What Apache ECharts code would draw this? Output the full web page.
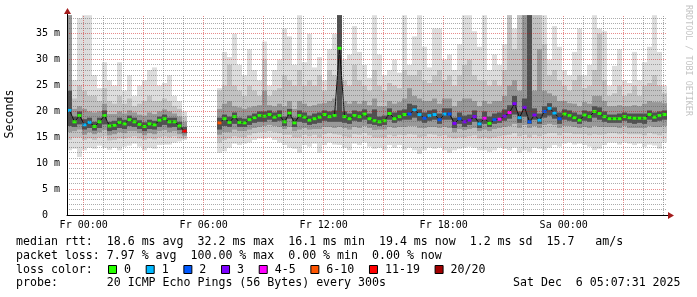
<!DOCTYPE html>
<html><head><meta charset="utf-8">
<script src="https://cdn.jsdelivr.net/npm/echarts@6/dist/echarts.min.js"></script>
<style>html,body{margin:0;padding:0;background:#fff}#c{width:697px;height:297px}</style>
</head><body><div id="c"></div>
<script>
// time axis in hours relative to Fr 00:00; one sample every 15 minutes
const startHour = -0.835, stepHours = 0.25, endHour = 29.165;

const rttMedian = [
20.2,18.0,19.2,17.4,17.9,17.1,18.0,19.2,17.2,17.3,
17.9,17.6,18.4,18.0,17.5,17.1,17.6,17.4,18.3,18.6,
18.0,18.0,17.2,16.2,null,null,null,null,null,null,
17.8,18.6,17.9,19.0,17.9,17.8,18.4,18.8,19.2,19.1,
19.4,18.9,19.2,18.0,19.7,17.8,19.2,18.9,18.3,18.6,
18.9,19.4,19.0,19.2,32.2,19.0,18.6,19.2,19.0,19.5,
18.6,18.2,18.0,18.2,19.6,18.6,19.0,19.4,19.5,20.3,
19.4,18.7,19.2,19.4,18.4,19.5,19.5,17.7,18.6,18.0,
18.3,19.0,17.6,18.7,17.7,18.4,18.5,19.1,19.8,21.5,
18.8,20.8,18.0,19.3,18.3,20.0,20.6,19.7,18.6,19.5,
19.2,18.8,18.3,19.3,19.0,20.0,19.6,19.0,18.6,18.6,
18.6,19.0,18.8,18.7,18.7,18.7,19.4,18.9,19.2,19.4];

const lossLevel = [
1,0,0,1,1,0,0,0,0,0,
0,0,0,0,0,0,0,0,0,0,
0,0,0,6,null,null,null,null,null,null,
5,0,0,0,0,0,0,0,0,0,
0,0,0,0,0,0,0,0,0,0,
0,0,0,0,0,0,0,0,0,0,
0,0,0,0,0,0,0,0,2,1,
1,2,1,1,2,1,2,3,2,3,
3,3,1,4,0,2,4,3,4,3,
1,3,2,3,1,2,1,1,2,0,
0,0,0,0,0,0,0,0,0,0,
0,0,0,0,0,0,0,0,0,0];

const rttMin = [
12.5,12.8,11.2,12.5,13.0,12.8,13.4,13.0,12.6,13.0,
12.5,13.2,13.4,13.8,13.2,12.5,13.0,12.8,13.5,13.6,
13.6,14.0,14.2,14.5,null,null,null,null,null,null,
12.0,12.3,13.0,13.8,13.5,13.8,14.0,14.5,14.8,14.8,
15.0,14.5,14.0,13.5,13.0,12.8,12.0,13.5,13.2,13.8,
12.0,13.5,14.0,13.6,13.5,13.0,12.5,13.8,13.5,14.0,
13.2,12.8,13.0,12.5,13.5,13.0,13.5,12.6,13.0,12.5,
11.8,12.5,13.0,12.8,13.0,12.5,12.0,12.5,12.8,13.0,
13.2,13.0,12.5,12.5,12.2,12.5,13.0,12.8,12.5,13.0,
12.0,12.5,12.2,13.0,12.8,12.5,13.0,13.5,13.2,13.8,
14.0,13.6,13.8,13.5,13.2,12.5,12.8,13.5,14.0,14.0,
13.6,14.0,13.8,13.5,13.8,13.2,13.6,13.4,12.8,14.0];

const rttLo2 = [
14.5,15.0,15.0,14.5,14.8,14.5,15.0,15.2,14.4,14.5,
14.8,14.8,15.0,15.2,14.8,14.5,14.8,14.6,15.0,15.2,
15.0,15.2,14.8,14.8,null,null,null,null,null,null,
14.0,14.5,14.8,15.2,15.0,15.0,15.4,15.8,16.0,16.0,
16.2,16.0,15.8,15.5,15.5,15.0,15.0,15.5,15.2,15.5,
15.0,15.6,15.8,15.6,15.5,15.2,15.0,15.6,15.5,15.8,
15.4,15.0,15.0,15.0,15.5,15.2,15.5,15.4,15.6,15.5,
15.0,15.2,15.6,15.5,15.2,15.4,15.0,14.8,15.0,15.0,
15.2,15.4,14.8,15.0,14.8,15.0,15.2,15.4,15.5,15.8,
15.2,15.5,15.0,15.5,15.2,15.6,15.8,15.8,15.4,15.8,
15.8,15.6,15.6,15.6,15.4,15.6,15.5,15.6,15.8,15.8,
15.6,15.8,15.6,15.6,15.6,15.4,15.8,15.6,15.4,15.8];

const rttLo3 = [
16.0,16.2,16.5,15.5,16.0,15.6,16.0,16.4,15.4,15.6,
16.0,15.8,16.2,16.2,15.8,15.4,15.8,15.6,16.2,16.4,
16.0,16.2,15.6,15.3,null,null,null,null,null,null,
15.5,16.0,16.0,16.5,16.2,16.2,16.5,16.8,17.0,17.2,
17.4,17.2,17.0,16.6,17.0,16.2,16.5,16.8,16.5,16.6,
16.6,17.0,17.0,16.8,17.0,16.8,16.5,17.0,16.8,17.2,
16.8,16.4,16.5,16.5,17.0,16.8,17.0,17.0,17.2,17.2,
16.8,16.8,17.0,17.0,16.8,17.0,16.8,16.0,16.6,16.4,
16.6,16.8,16.2,16.5,16.2,16.6,16.8,17.0,17.2,17.6,
16.8,17.4,16.8,17.2,16.8,17.4,17.6,17.4,16.8,17.2,
17.2,17.0,16.8,17.0,16.8,17.2,17.0,17.0,17.0,17.0,
16.8,17.2,16.8,16.8,16.8,16.8,17.2,17.0,17.0,17.2];

const rttLo4 = [
17.2,17.0,17.5,16.5,16.8,16.3,16.8,17.5,16.2,16.4,
16.8,16.6,17.2,17.0,16.6,16.2,16.6,16.5,17.0,17.4,
16.9,17.0,16.4,15.8,null,null,null,null,null,null,
16.5,17.2,17.0,17.6,17.0,17.0,17.4,17.8,18.0,18.0,
18.4,18.0,18.2,17.2,18.6,17.0,18.0,17.8,17.4,17.6,
17.8,18.2,18.0,18.0,18.0,17.8,17.6,18.2,18.0,18.4,
17.6,17.4,17.2,17.4,18.4,17.8,18.2,18.4,18.4,18.8,
18.2,17.8,18.2,18.4,17.6,18.4,18.4,16.8,17.6,17.0,
17.4,18.0,16.8,17.6,17.0,17.6,17.8,18.2,18.6,19.4,
17.8,19.0,17.6,18.4,17.6,18.8,19.2,18.6,17.6,18.4,
18.2,18.0,17.6,18.2,18.0,18.8,18.4,18.0,17.8,17.8,
17.8,18.2,17.8,17.6,17.8,17.6,18.4,18.0,18.2,18.4];

const rttHi4 = [
24.0,19.0,20.0,18.5,18.8,18.0,18.8,20.2,18.0,18.2,
18.8,18.4,19.2,18.8,18.3,17.9,18.4,18.2,19.0,19.4,
18.8,18.8,18.0,17.0,null,null,null,null,null,null,
18.8,19.4,19.0,19.8,18.8,18.6,19.2,19.6,20.0,20.0,
20.2,19.8,20.2,19.0,20.5,18.8,20.2,19.8,19.2,19.6,
19.8,20.2,20.0,20.2,38.6,20.0,19.6,20.2,20.0,20.4,
19.6,20.4,19.0,19.2,20.6,19.8,20.2,20.4,21.5,21.2,
20.4,19.8,20.2,20.4,19.6,20.6,20.6,18.8,19.8,19.2,
19.4,20.2,18.6,20.0,19.0,19.6,19.8,20.4,21.2,23.0,
20.0,22.5,38.6,20.6,19.6,21.0,21.6,20.8,19.8,20.4,
20.2,19.8,19.4,20.2,20.0,21.0,20.8,20.0,19.4,19.4,
19.6,19.8,19.6,19.6,19.6,19.6,20.2,19.8,20.0,20.2];

const rttHi3 = [
38.6,20.5,21.0,20.5,20.0,19.8,20.0,21.5,19.5,19.5,
20.0,19.6,20.2,19.8,19.4,19.2,19.8,19.5,20.0,20.4,
20.0,19.6,19.0,18.0,null,null,null,null,null,null,
20.5,21.5,22.0,21.0,20.8,20.5,20.8,21.0,21.2,24.0,
21.2,21.0,21.5,21.0,22.0,20.5,22.0,21.5,21.0,21.2,
21.5,21.6,22.0,22.5,38.6,22.0,21.5,22.0,21.5,22.0,
21.2,22.5,21.0,21.0,22.0,21.5,21.8,22.5,24.5,23.0,
22.5,22.0,22.0,22.5,21.5,22.5,22.5,21.0,22.0,22.5,
22.5,22.0,21.0,22.0,21.5,22.0,22.0,23.0,25.0,26.0,
24.0,38.6,38.6,24.0,32.0,24.0,23.5,23.0,22.0,22.0,
21.6,21.5,21.0,21.8,21.5,23.0,23.0,22.0,21.0,21.0,
21.2,21.0,21.0,21.2,21.0,21.5,22.0,21.8,21.8,21.6];

const rttHi2 = [
38.6,22.5,25.0,24.0,23.0,23.0,22.0,24.5,22.0,21.5,
23.0,21.5,22.5,21.0,21.5,22.0,23.0,22.0,22.0,22.5,
22.0,21.0,20.5,19.0,null,null,null,null,null,null,
24.0,25.0,29.0,25.0,24.0,23.0,25.0,24.0,23.0,30.0,
23.0,24.0,24.5,27.0,26.0,25.0,28.0,25.0,26.0,25.0,
27.0,24.0,28.0,27.0,38.6,26.0,25.0,29.0,26.0,25.0,
24.0,28.0,25.0,24.0,25.5,25.0,24.5,28.0,27.0,27.0,
28.0,26.0,25.5,27.0,28.0,26.0,27.0,25.0,27.0,29.0,
30.0,27.0,26.0,26.0,25.0,26.0,25.0,28.0,38.6,32.0,
38.6,38.6,38.6,38.6,38.6,33.0,27.0,28.0,26.0,25.0,
24.0,26.0,27.0,24.5,25.0,28.0,35.0,26.0,23.0,23.5,
25.0,23.0,23.5,25.0,23.0,25.0,25.5,27.0,25.0,23.5];

const rttMax = [
38.6,26.0,38.0,38.6,38.6,27.0,24.5,29.5,26.0,25.0,
29.5,24.0,27.0,23.0,25.0,26.0,28.0,28.5,25.0,25.5,
27.0,23.0,22.0,20.0,null,null,null,null,null,null,
24.5,31.5,30.5,35.0,29.0,27.0,32.0,28.0,26.0,33.5,
25.0,28.0,30.0,36.0,34.5,29.0,38.6,29.5,35.0,28.5,
30.5,26.0,32.0,35.0,38.6,30.0,31.0,36.5,31.5,29.0,
26.5,38.6,31.0,27.0,28.0,30.0,27.5,38.6,29.0,34.5,
38.6,32.5,28.5,36.0,36.0,30.0,31.0,28.0,33.0,38.6,
38.6,35.5,32.5,38.6,28.0,31.0,29.0,33.0,38.6,36.0,
38.6,38.6,38.6,38.6,38.6,38.6,30.0,36.5,32.5,28.0,
27.0,31.5,36.0,27.0,29.0,38.6,36.0,35.5,25.0,28.8,
32.0,26.0,25.5,31.5,26.0,29.5,32.5,38.6,31.5,25.0];

const lossColors = ['#26ff00','#00b8ff','#0059ff','#7e00ff','#ff00ff','#ff5500','#ff0000','#a10000'];
const lossLabels = ['0','1','2','3','4-5','6-10','11-19','20/20'];
const xTickHours = [0, 6, 12, 18, 24];
const xTickLabels = ['Fr 00:00','Fr 06:00','Fr 12:00','Fr 18:00','Sa 00:00'];
const yTickValues = [0, 5, 10, 15, 20, 25, 30, 35];
const statLines = [
  'median rtt:  18.6 ms avg  32.2 ms max  16.1 ms min  19.4 ms now  1.2 ms sd  15.7   am/s',
  'packet loss: 7.97 % avg  100.00 % max  0.00 % min  0.00 % now'
];
const lossTitle = 'loss color:';
const probeLine = 'probe:       20 ICMP Echo Pings (56 Bytes) every 300s';
const dateLine = 'Sat Dec  6 05:07:31 2025';
const yTitle = 'Seconds';
const credit = 'RRDTOOL / TOBI OETIKER';

const yMax = 38.63;
const GRID = { left: 67, top: 15, width: 600, height: 200 };
const MONO = '"DejaVu Sans Mono", monospace';

const times = rttMedian.map((_, i) => startHour + i * stepHours);

function bandData(lo, hi) {
  const out = [];
  times.forEach((t, i) => { if (lo[i] != null && hi[i] != null) out.push([t, lo[i], hi[i]]); });
  return out;
}
function bandSeries(lo, hi, color, z) {
  return {
    type: 'custom', z: z, silent: true, animation: false,
    encode: { x: 0, y: [1, 2] },
    data: bandData(lo, hi),
    renderItem: function (params, api) {
      const t = api.value(0), l = api.value(1), h = api.value(2);
      const p1 = api.coord([t, h]);
      const p2 = api.coord([t + stepHours, l]);
      return { type: 'rect', shape: { x: p1[0], y: p1[1], width: p2[0] - p1[0], height: p2[1] - p1[1] },
               style: { fill: color } };
    }
  };
}

const medianDots = [];
times.forEach((t, i) => { if (rttMedian[i] != null) medianDots.push([t + stepHours / 2, rttMedian[i], lossLevel[i]]); });
const medianLine = times.map((t, i) => [t + stepHours / 2, rttMedian[i] == null ? '-' : rttMedian[i]]);

// grid lines, nudged onto pixel centres so the dotted lines stay crisp
const MINOR = 'rgba(90,90,90,0.5)', MAJOR = 'rgba(205,0,0,0.45)';
const pxPerHour = GRID.width / (endHour - startHour);
const pxPerMs = GRID.height / yMax;
const gridMarks = [];
for (let h = Math.ceil(startHour); h <= endHour; h++) {
  const px = GRID.left + (h - startHour) * pxPerHour;
  const hs = startHour + (Math.floor(px) + 0.5 - GRID.left) / pxPerHour;
  gridMarks.push({ xAxis: hs, lineStyle: { color: h % 3 === 0 ? MAJOR : MINOR, type: [1, 1], width: 1 } });
}
for (let v = 1; v < yMax; v++) {
  const py = GRID.top + GRID.height - v * pxPerMs;
  const vs = (GRID.top + GRID.height - (Math.floor(py) + 0.5)) / pxPerMs;
  gridMarks.push({ yAxis: vs, lineStyle: { color: v % 5 === 0 ? MAJOR : MINOR, type: [1, 1], width: 1 } });
}

// legend layout
const legendGraphics = [];
let lx = 108;
lossLabels.forEach((lab, k) => {
  legendGraphics.push({ type: 'rect', shape: { x: lx + 0.5, y: 265.5, width: 8, height: 8 },
    style: { fill: lossColors[k], stroke: '#000', lineWidth: 1 } });
  legendGraphics.push({ type: 'text', x: lx + 16, y: 269.5,
    style: { text: lab, font: '11.6px ' + MONO, fill: '#000', verticalAlign: 'middle' } });
  lx += 16 + lab.length * 6.98 + 14.7;
});

const chart = echarts.init(document.getElementById('c'), null, { renderer: 'canvas' });
chart.setOption({
  animation: false,
  backgroundColor: '#fff',
  grid: GRID,
  xAxis: {
    type: 'value', min: startHour, max: endHour, z: 6,
    axisLine: { show: true, onZero: false, lineStyle: { color: '#000', width: 1 } },
    axisTick: { show: false },
    splitLine: { show: false },
    axisLabel: {
      customValues: xTickHours,
      formatter: v => { const k = xTickHours.indexOf(Math.round(v)); return k >= 0 ? xTickLabels[k] : ''; },
      margin: 5, color: '#000', fontFamily: MONO, fontSize: 10
    }
  },
  yAxis: {
    type: 'value', min: 0, max: yMax, interval: 5, z: 6,
    axisLine: { show: true, onZero: false, lineStyle: { color: '#000', width: 1 } },
    axisTick: { show: false },
    splitLine: { show: false },
    axisLabel: {
      showMaxLabel: false,
      formatter: v => yTickValues.indexOf(v) < 0 ? '' : (v === 0 ? '0  ' : v + ' m'),
      margin: 7, color: '#000', fontFamily: MONO, fontSize: 10
    }
  },
  series: [
    bandSeries(rttMin, rttMax, '#dddddd', 1),
    bandSeries(rttLo2, rttHi2, '#c2c2c2', 1),
    bandSeries(rttLo3, rttHi3, '#989898', 1),
    bandSeries(rttLo4, rttHi4, '#505050', 1),
    {
      type: 'line', z: 2, data: medianLine, showSymbol: false, connectNulls: false, silent: true,
      lineStyle: { color: '#111', width: 1 }
    },
    {
      type: 'line', z: 3, data: [], silent: true, showSymbol: false,
      markLine: { silent: true, symbol: ['none', 'none'], label: { show: false }, animation: false, data: gridMarks }
    },
    {
      type: 'custom', z: 4, silent: true,
      encode: { x: 0, y: 1 },
      data: medianDots,
      renderItem: function (params, api) {
        const p = api.coord([api.value(0), api.value(1)]);
        return { type: 'rect', shape: { x: p[0] - 2, y: p[1] - 1.5, width: 4, height: 3 },
                 style: { fill: lossColors[api.value(2)] } };
      }
    }
  ],
  graphic: [
    { type: 'line', shape: { x1: 67.5, y1: 15, x2: 67.5, y2: 12 }, style: { stroke: '#000', lineWidth: 1 } },
    { type: 'polygon', shape: { points: [[64, 14], [67.5, 8], [71, 14]] }, style: { fill: '#a31c1c' } },
    { type: 'line', shape: { x1: 667, y1: 215.5, x2: 669, y2: 215.5 }, style: { stroke: '#000', lineWidth: 1 } },
    { type: 'polygon', shape: { points: [[668, 212], [674, 215.5], [668, 219]] }, style: { fill: '#a31c1c' } },
    { type: 'text', x: 10, y: 114, rotation: Math.PI / 2,
      style: { text: yTitle, font: '11.6px ' + MONO, fill: '#000', align: 'center', verticalAlign: 'middle' } },
    { type: 'text', x: 688, y: 5, rotation: -Math.PI / 2,
      style: { text: credit, font: '8.4px ' + MONO, fill: '#c4c4c4', align: 'left', verticalAlign: 'middle' } },
    { type: 'text', x: 16, y: 241.5,
      style: { text: statLines[0], font: '11.6px ' + MONO, fill: '#000', verticalAlign: 'middle' } },
    { type: 'text', x: 16, y: 255.5,
      style: { text: statLines[1], font: '11.6px ' + MONO, fill: '#000', verticalAlign: 'middle' } },
    { type: 'text', x: 16, y: 269.5,
      style: { text: lossTitle, font: '11.6px ' + MONO, fill: '#000', verticalAlign: 'middle' } },
    { type: 'text', x: 16, y: 283,
      style: { text: probeLine, font: '11.6px ' + MONO, fill: '#000', verticalAlign: 'middle' } },
    { type: 'text', x: 513, y: 283,
      style: { text: dateLine, font: '11.6px ' + MONO, fill: '#000', verticalAlign: 'middle' } }
  ].concat(legendGraphics)
});
</script>
</body></html>
